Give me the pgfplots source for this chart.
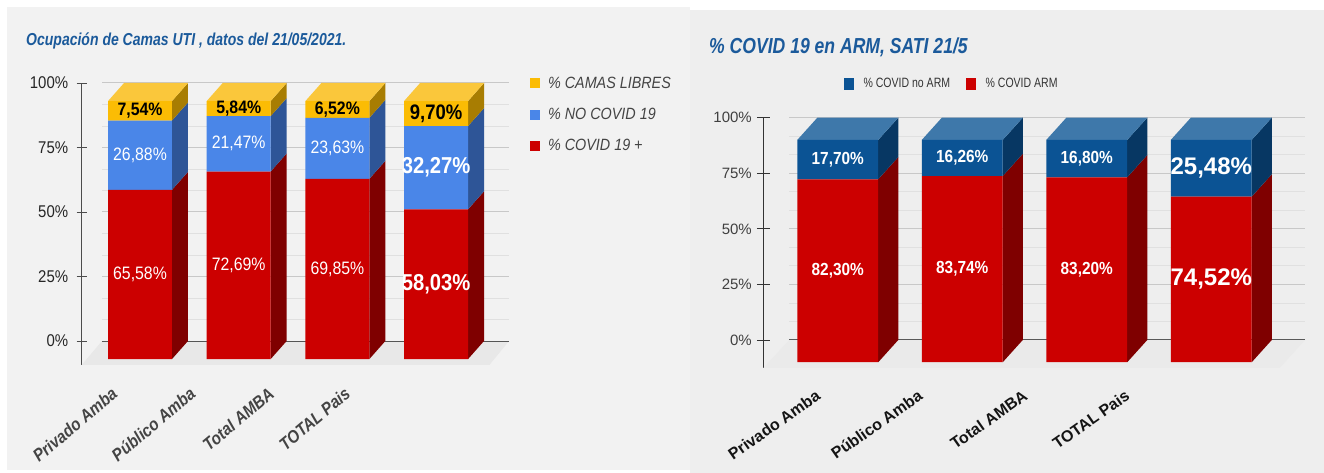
\documentclass[border=0pt]{standalone}
\usepackage{pgfplots}
\pgfplotsset{compat=1.18}
\usepackage{fontspec}
\setmainfont{Liberation Sans}
\newfontfamily\fT[FakeStretch=0.81]{Liberation Sans}
\newfontfamily\fC[FakeStretch=0.88]{Liberation Sans}
\newfontfamily\fL[FakeStretch=0.78]{Liberation Sans}
\newfontfamily\fN{Liberation Sans}
\definecolor{bgL}{HTML}{F2F2F2}
\definecolor{bgR}{HTML}{EEEEEE}
\definecolor{floorL}{HTML}{E8E8E8}
\definecolor{floorR}{HTML}{EAEAEA}
\definecolor{minorG}{HTML}{E0E0E0}
\definecolor{majorG}{HTML}{C8C8C8}
\definecolor{zeroG}{HTML}{555555}
\definecolor{titlec}{HTML}{1B5A9B}
\definecolor{redF}{HTML}{CC0000}
\definecolor{redS}{HTML}{7F0000}
\definecolor{blueF}{HTML}{4A86E8}
\definecolor{blueS}{HTML}{2E5597}
\definecolor{yelF}{HTML}{FBBC04}
\definecolor{yelT}{HTML}{FAC73B}
\definecolor{yelS}{HTML}{A87D02}
\definecolor{dblueF}{HTML}{0B5394}
\definecolor{dblueT}{HTML}{3E78AA}
\definecolor{dblueS}{HTML}{073763}
\definecolor{txtL}{HTML}{444444}
\pgfplotsset{
  leftax/.style={at={(81.7pt,108pt)}, anchor=south west, scale only axis,
    width=427.3pt, height=282pt, xmin=-0.591, xmax=3.739,
    enlargelimits=false, clip=false},
  rightax/.style={at={(763.3pt,105pt)}, anchor=south west, scale only axis,
    width=541.7pt, height=250.3pt, xmin=-0.598, xmax=3.753,
    enlargelimits=false, clip=false},
}
\begin{document}
\begin{tikzpicture}[x=1pt,y=1pt]
\fill[white] (0,0) rectangle (1324,473);
\fill[bgL] (7,3) rectangle (690,466);
\fill[bgR] (690,0) rectangle (1324,463);
% titles
\node[anchor=west, text=titlec, inner sep=0pt, font=\fT\bfseries\itshape\fontsize{17.3}{20}\selectfont] at (26,432) {Ocupación de Camas UTI , datos del 21/05/2021.};
\node[anchor=west, text=titlec, inner sep=0pt, font=\fT\bfseries\itshape\fontsize{21.7}{24}\selectfont] at (709,426) {\% COVID 19 en ARM, SATI 21/5};

%================ LEFT: back layer =================
\begin{axis}[leftax, ymin=-9.3, ymax=100,
  axis x line=none, axis y line*=left,
  y axis line style={draw=black!70, line width=0.9pt},
  ytick={0,25,50,75,100}, yticklabels={0\%,25\%,50\%,75\%,100\%},
  tick align=center, major tick length=10pt,
  ytick style={draw=black!70, line width=0.9pt},
  yticklabel style={font=\fC\fontsize{17}{20}\selectfont, text=black!85, xshift=-5pt}]
\addplot[fill=floorL, draw=none, forget plot] coordinates {(-0.385,0) (3.739,0) (3.54,-9.3) (-0.591,-9.3)};
\pgfplotsinvokeforeach{8.333,16.667,33.333,41.667,58.333,66.667,83.333,91.667}{
  \draw[color=minorG, line width=0.8pt] (axis cs:-0.385,#1) -- (axis cs:3.739,#1);}
\pgfplotsinvokeforeach{25,50,75,100}{
  \draw[color=majorG, line width=1pt] (axis cs:-0.385,#1) -- (axis cs:3.739,#1);}
\draw[color=zeroG, line width=1pt] (axis cs:-0.385,0) -- (axis cs:3.739,0);
% side and top faces
\addplot[fill=redS, draw=none, unbounded coords=jump, forget plot] coordinates {
 (0.324,-7) (0.486,0) (0.486,65.58) (0.324,58.58) (0.324,nan)
 (1.324,-7) (1.486,0) (1.486,72.69) (1.324,65.69) (1.324,nan)
 (2.324,-7) (2.486,0) (2.486,69.85) (2.324,62.85) (2.324,nan)
 (3.324,-7) (3.486,0) (3.486,58.03) (3.324,51.03)};
\addplot[fill=blueS, draw=none, unbounded coords=jump, forget plot] coordinates {
 (0.324,58.58) (0.486,65.58) (0.486,92.46) (0.324,85.46) (0.324,nan)
 (1.324,65.69) (1.486,72.69) (1.486,94.16) (1.324,87.16) (1.324,nan)
 (2.324,62.85) (2.486,69.85) (2.486,93.48) (2.324,86.48) (2.324,nan)
 (3.324,51.03) (3.486,58.03) (3.486,90.30) (3.324,83.30)};
\addplot[fill=yelS, draw=none, unbounded coords=jump, forget plot] coordinates {
 (0.324,85.46) (0.486,92.46) (0.486,100) (0.324,93) (0.324,nan)
 (1.324,87.16) (1.486,94.16) (1.486,100) (1.324,93) (1.324,nan)
 (2.324,86.48) (2.486,93.48) (2.486,100) (2.324,93) (2.324,nan)
 (3.324,83.30) (3.486,90.30) (3.486,100) (3.324,93)};
\addplot[fill=yelT, draw=none, unbounded coords=jump, forget plot] coordinates {
 (-0.324,93) (0.324,93) (0.486,100) (-0.162,100) (0,nan)
 (0.676,93) (1.324,93) (1.486,100) (0.838,100) (1,nan)
 (1.676,93) (2.324,93) (2.486,100) (1.838,100) (2,nan)
 (2.676,93) (3.324,93) (3.486,100) (2.838,100)};
\end{axis}

%================ LEFT: front faces (y shifted by +7) ====
\begin{axis}[leftax, ymin=-2.3, ymax=107, hide axis,
  ybar stacked, bar width=0.648,
  reverse legend, legend cell align=left,
  legend image code/.code={\fill[#1] (0pt,-5pt) rectangle (10pt,5pt);},
  legend style={at={(1.049,1.03)}, anchor=north west, draw=none, fill=none,
    inner sep=0pt, row sep=14.5pt, column sep=6pt,
    font=\fC\itshape\fontsize{16.3}{18}\selectfont, text=txtL}]
\addplot[fill=redF, draw=none] coordinates {(0,65.58) (1,72.69) (2,69.85) (3,58.03)};
\addplot[fill=blueF, draw=none] coordinates {(0,26.88) (1,21.47) (2,23.63) (3,32.27)};
\addplot[fill=yelF, draw=none] coordinates {(0,7.54) (1,5.84) (2,6.52) (3,9.70)};
\legend{\% COVID 19 +, \% NO COVID 19, \% CAMAS LIBRES}
\end{axis}

%================ LEFT: labels ====
\begin{axis}[leftax, ymin=-2.3, ymax=107, hide axis]
\node[inner sep=0pt, text=white, font=\fC\fontsize{18}{20}\selectfont] at (axis cs:0,32.79) {65,58\%};
\node[inner sep=0pt, text=white, font=\fC\fontsize{18}{20}\selectfont] at (axis cs:0,79.02) {26,88\%};
\node[inner sep=0pt, text=black, font=\fC\bfseries\fontsize{18}{20}\selectfont] at (axis cs:0,96.23) {7,54\%};
\node[inner sep=0pt, text=white, font=\fC\fontsize{18}{20}\selectfont] at (axis cs:1,36.35) {72,69\%};
\node[inner sep=0pt, text=white, font=\fC\fontsize{18}{20}\selectfont] at (axis cs:1,83.43) {21,47\%};
\node[inner sep=0pt, text=black, font=\fC\bfseries\fontsize{18}{20}\selectfont] at (axis cs:1,97.08) {5,84\%};
\node[inner sep=0pt, text=white, font=\fC\fontsize{18}{20}\selectfont] at (axis cs:2,34.93) {69,85\%};
\node[inner sep=0pt, text=white, font=\fC\fontsize{18}{20}\selectfont] at (axis cs:2,81.67) {23,63\%};
\node[inner sep=0pt, text=black, font=\fC\bfseries\fontsize{18}{20}\selectfont] at (axis cs:2,96.74) {6,52\%};
\node[inner sep=0pt, text=white, font=\fC\bfseries\fontsize{23}{25}\selectfont] at (axis cs:3,29.02) {58,03\%};
\node[inner sep=0pt, text=white, font=\fC\bfseries\fontsize{23}{25}\selectfont] at (axis cs:3,74.17) {32,27\%};
\node[inner sep=0pt, text=black, font=\fC\bfseries\fontsize{21}{23}\selectfont] at (axis cs:3,95.15) {9,70\%};
\node[rotate=40, anchor=north east, inner sep=0pt, text=txtL, font=\fC\bfseries\itshape\fontsize{17.5}{19}\selectfont] at (axis cs:-0.30,-10.5) {Privado Amba};
\node[rotate=40, anchor=north east, inner sep=0pt, text=txtL, font=\fC\bfseries\itshape\fontsize{17.5}{19}\selectfont] at (axis cs:0.49,-10.5) {Público Amba};
\node[rotate=40, anchor=north east, inner sep=0pt, text=txtL, font=\fC\bfseries\itshape\fontsize{17.5}{19}\selectfont] at (axis cs:1.29,-10.5) {Total AMBA};
\node[rotate=40, anchor=north east, inner sep=0pt, text=txtL, font=\fC\bfseries\itshape\fontsize{17.5}{19}\selectfont] at (axis cs:2.06,-10.5) {TOTAL Pais};
\end{axis}

%================ RIGHT: back layer =================
\begin{axis}[rightax, ymin=-12.6, ymax=100,
  axis x line=none, axis y line*=left,
  y axis line style={draw=black!80, line width=0.9pt},
  ytick={0,25,50,75,100}, yticklabels={0\%,25\%,50\%,75\%,100\%},
  tick align=center, major tick length=13pt,
  ytick style={draw=black!80, line width=0.9pt},
  yticklabel style={font=\fN\fontsize{15}{18}\selectfont, text=black!75, xshift=-1.5pt}]
\addplot[fill=floorR, draw=none, forget plot] coordinates {(-0.39,0) (3.753,0) (3.55,-12.6) (-0.598,-12.6)};
\pgfplotsinvokeforeach{8.333,16.667,33.333,41.667,58.333,66.667,83.333,91.667}{
  \draw[color=minorG, line width=0.8pt] (axis cs:-0.39,#1) -- (axis cs:3.753,#1);}
\pgfplotsinvokeforeach{25,50,75,100}{
  \draw[color=majorG, line width=1pt] (axis cs:-0.39,#1) -- (axis cs:3.753,#1);}
\draw[color=black!65, line width=1pt] (axis cs:-0.39,0) -- (axis cs:3.753,0);
\addplot[fill=redS, draw=none, unbounded coords=jump, forget plot] coordinates {
 (0.325,-10) (0.486,0) (0.486,82.30) (0.325,72.30) (0.325,nan)
 (1.325,-10) (1.486,0) (1.486,83.74) (1.325,73.74) (1.325,nan)
 (2.325,-10) (2.486,0) (2.486,83.20) (2.325,73.20) (2.325,nan)
 (3.325,-10) (3.486,0) (3.486,74.52) (3.325,64.52)};
\addplot[fill=dblueS, draw=none, unbounded coords=jump, forget plot] coordinates {
 (0.325,72.30) (0.486,82.30) (0.486,100) (0.325,90) (0.325,nan)
 (1.325,73.74) (1.486,83.74) (1.486,100) (1.325,90) (1.325,nan)
 (2.325,73.20) (2.486,83.20) (2.486,100) (2.325,90) (2.325,nan)
 (3.325,64.52) (3.486,74.52) (3.486,100) (3.325,90)};
\addplot[fill=dblueT, draw=none, unbounded coords=jump, forget plot] coordinates {
 (-0.325,90) (0.325,90) (0.486,100) (-0.164,100) (0,nan)
 (0.675,90) (1.325,90) (1.486,100) (0.836,100) (1,nan)
 (1.675,90) (2.325,90) (2.486,100) (1.836,100) (2,nan)
 (2.675,90) (3.325,90) (3.486,100) (2.836,100)};
\end{axis}

%================ RIGHT: front faces (y shifted by +10) =================
\begin{axis}[rightax, ymin=-2.6, ymax=110, hide axis,
  ybar stacked, bar width=0.65,
  reverse legend, legend columns=2,
  legend image code/.code={\fill[#1] (0pt,-6pt) rectangle (9.5pt,6pt);},
  legend style={at={(0.348,1.135)}, anchor=center, draw=none, fill=none,
    inner sep=0pt, column sep=8pt, font=\fL\fontsize{13.5}{15}\selectfont, text=black!80,
    /tikz/every even column/.append style={column sep=14pt}}]
\addplot[fill=redF, draw=none] coordinates {(0,82.30) (1,83.74) (2,83.20) (3,74.52)};
\addplot[fill=dblueF, draw=none] coordinates {(0,17.70) (1,16.26) (2,16.80) (3,25.48)};
\legend{\% COVID ARM, \% COVID no ARM}
\end{axis}

%================ RIGHT: labels =================
\begin{axis}[rightax, ymin=-2.6, ymax=110, hide axis]
\node[inner sep=0pt, text=white, font=\fC\bfseries\fontsize{17.5}{20}\selectfont] at (axis cs:0,41.15) {82,30\%};
\node[inner sep=0pt, text=white, font=\fC\bfseries\fontsize{17.5}{20}\selectfont] at (axis cs:0,91.15) {17,70\%};
\node[inner sep=0pt, text=white, font=\fC\bfseries\fontsize{17.5}{20}\selectfont] at (axis cs:1,41.87) {83,74\%};
\node[inner sep=0pt, text=white, font=\fC\bfseries\fontsize{17.5}{20}\selectfont] at (axis cs:1,91.87) {16,26\%};
\node[inner sep=0pt, text=white, font=\fC\bfseries\fontsize{17.5}{20}\selectfont] at (axis cs:2,41.6) {83,20\%};
\node[inner sep=0pt, text=white, font=\fC\bfseries\fontsize{17.5}{20}\selectfont] at (axis cs:2,91.6) {16,80\%};
\node[inner sep=0pt, text=white, font=\fN\bfseries\fontsize{24}{26}\selectfont] at (axis cs:3,37.26) {74,52\%};
\node[inner sep=0pt, text=white, font=\fN\bfseries\fontsize{24}{26}\selectfont] at (axis cs:3,87.26) {25,48\%};
\node[rotate=35, anchor=north east, inner sep=0pt, text=black!92, font=\fN\bfseries\fontsize{16}{18}\selectfont] at (axis cs:-0.185,-12) {Privado Amba};
\node[rotate=35, anchor=north east, inner sep=0pt, text=black!92, font=\fN\bfseries\fontsize{16}{18}\selectfont] at (axis cs:0.636,-12) {Público Amba};
\node[rotate=35, anchor=north east, inner sep=0pt, text=black!92, font=\fN\bfseries\fontsize{16}{18}\selectfont] at (axis cs:1.48,-12) {Total AMBA};
\node[rotate=35, anchor=north east, inner sep=0pt, text=black!92, font=\fN\bfseries\fontsize{16}{18}\selectfont] at (axis cs:2.30,-12) {TOTAL Pais};
\end{axis}
\end{tikzpicture}
\end{document}
